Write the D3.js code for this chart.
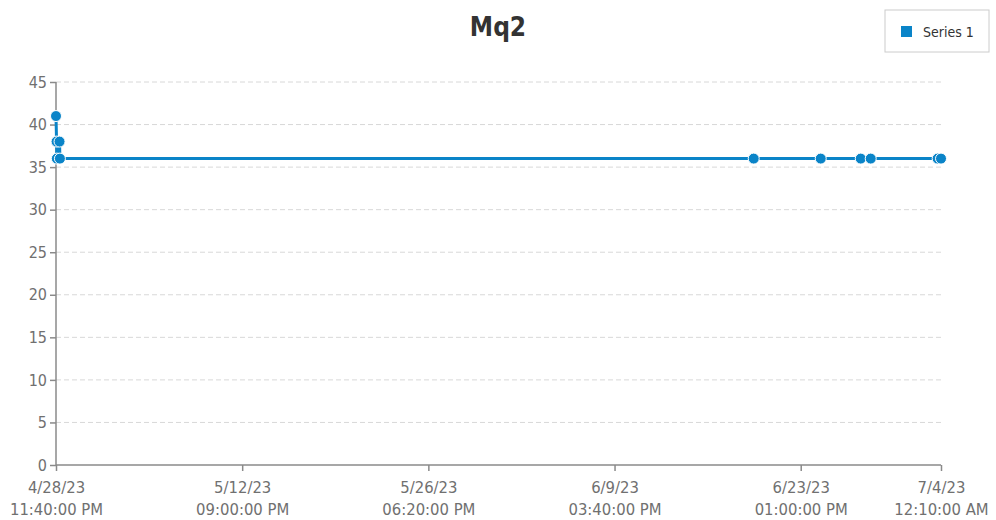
<!DOCTYPE html>
<html>
<head>
<meta charset="utf-8">
<script src="https://cdn.jsdelivr.net/npm/d3@7"></script>
<style>
body { margin: 0; background: #fff; }
svg text { font-family: "Liberation Sans Narrow", "DejaVu Sans Condensed", "Open Sans", sans-serif; }
</style>
</head>
<body>
<svg id="chart" width="996" height="520"></svg>
<script>
// readings of the Mq2 sensor
var times = [
  "2023-04-28 23:40", "2023-04-29 00:40", "2023-04-29 01:10", "2023-04-29 06:00",
  "2023-04-29 06:40", "2023-06-20 00:50", "2023-06-25 00:50", "2023-06-28 00:30",
  "2023-06-28 18:20", "2023-07-03 18:10", "2023-07-04 00:10"
];
var values = [41, 38, 36, 38, 36, 36, 36, 36, 36, 36, 36];
var tickTimes = [
  "2023-04-28 23:40", "2023-05-12 21:00", "2023-05-26 18:20",
  "2023-06-09 15:40", "2023-06-23 13:00", "2023-07-04 00:10"
];
var yTicks = [0, 5, 10, 15, 20, 25, 30, 35, 40, 45];
var seriesName = "Series 1";
var title = "Mq2";

var parse = d3.timeParse("%Y-%m-%d %H:%M");
var data = times.map(function(t, i) { return { t: parse(t), v: values[i] }; });

var svg = d3.select("#chart");
var plotLeft = 56, plotRight = 941, plotTop = 82, plotBottom = 465;
var blue = "#0a84c8";

var x_scale = d3.scaleTime()
  .domain(d3.extent(data, function(d) { return d.t; }))
  .range([plotLeft, plotRight]);
var y_scale = d3.scaleLinear().domain([0, 45]).range([plotBottom, plotTop]);

// grid
svg.append("g")
  .selectAll("line")
  .data(yTicks.filter(function(v) { return v > 0; }))
  .enter()
  .append("line")
  .attr("x1", plotLeft)
  .attr("x2", plotRight)
  .attr("y1", function(d) { return y_scale(d); })
  .attr("y2", function(d) { return y_scale(d); })
  .style("stroke", "#d8d8d8")
  .style("stroke-dasharray", "5,3");

// y axis
var yAxis = svg.append("g")
  .attr("transform", "translate(" + plotLeft + ",0)")
  .call(d3.axisLeft(y_scale).tickValues(yTicks).tickSize(6).tickPadding(3));
yAxis.selectAll("path, line").style("stroke", "#8a8a8a").style("stroke-width", 1.5);
yAxis.select(".domain").attr("d", "M0," + plotTop + "V" + plotBottom);
yAxis.selectAll("text").style("font-size", "16px").style("fill", "#707070");

// x axis
var fmtDate = d3.timeFormat("%-m/%-d/%y");
var fmtTime = d3.timeFormat("%I:%M:%S %p");
var xAxis = svg.append("g")
  .attr("transform", "translate(0," + plotBottom + ")")
  .call(d3.axisBottom(x_scale).tickValues(tickTimes.map(parse)).tickSize(6).tickFormat(""));
xAxis.selectAll("path, line").style("stroke", "#8a8a8a").style("stroke-width", 1.5);
xAxis.select(".domain").attr("d", "M" + plotLeft + ",0H" + plotRight);

var labels = xAxis.selectAll(".tick")
  .append("text")
  .style("font-size", "16.5px")
  .style("fill", "#707070")
  .attr("text-anchor", "middle");
labels.append("tspan").attr("x", 0).attr("y", 28).text(function(d) { return fmtDate(d); });
labels.append("tspan").attr("x", 0).attr("y", 50).text(function(d) { return fmtTime(d); });

// line
var line = d3.line()
  .x(function(d) { return x_scale(d.t); })
  .y(function(d) { return y_scale(d.v); });

svg.append("path")
  .datum(data)
  .attr("d", line)
  .style("fill", "none")
  .style("stroke", blue)
  .style("stroke-width", 3);

svg.append("g")
  .selectAll("circle")
  .data(data)
  .enter()
  .append("circle")
  .attr("cx", function(d) { return x_scale(d.t); })
  .attr("cy", function(d) { return y_scale(d.v); })
  .attr("r", 5.5)
  .style("fill", blue)
  .style("stroke", "#fff")
  .style("stroke-width", 1);

// title
svg.append("text")
  .attr("x", 498)
  .attr("y", 36)
  .attr("text-anchor", "middle")
  .style("font-size", "26px")
  .style("font-weight", "bold")
  .style("fill", "#333")
  .text(title);

// legend
var legend = svg.append("g").attr("transform", "translate(885,10)");
legend.append("rect")
  .attr("width", 104)
  .attr("height", 42)
  .style("fill", "#fff")
  .style("stroke", "#ccc");
legend.append("rect")
  .attr("x", 16)
  .attr("y", 16)
  .attr("width", 11)
  .attr("height", 11)
  .style("fill", blue);
legend.append("text")
  .attr("x", 38)
  .attr("y", 27)
  .style("font-size", "14px")
  .style("fill", "#333")
  .text(seriesName);
</script>
</body>
</html>
